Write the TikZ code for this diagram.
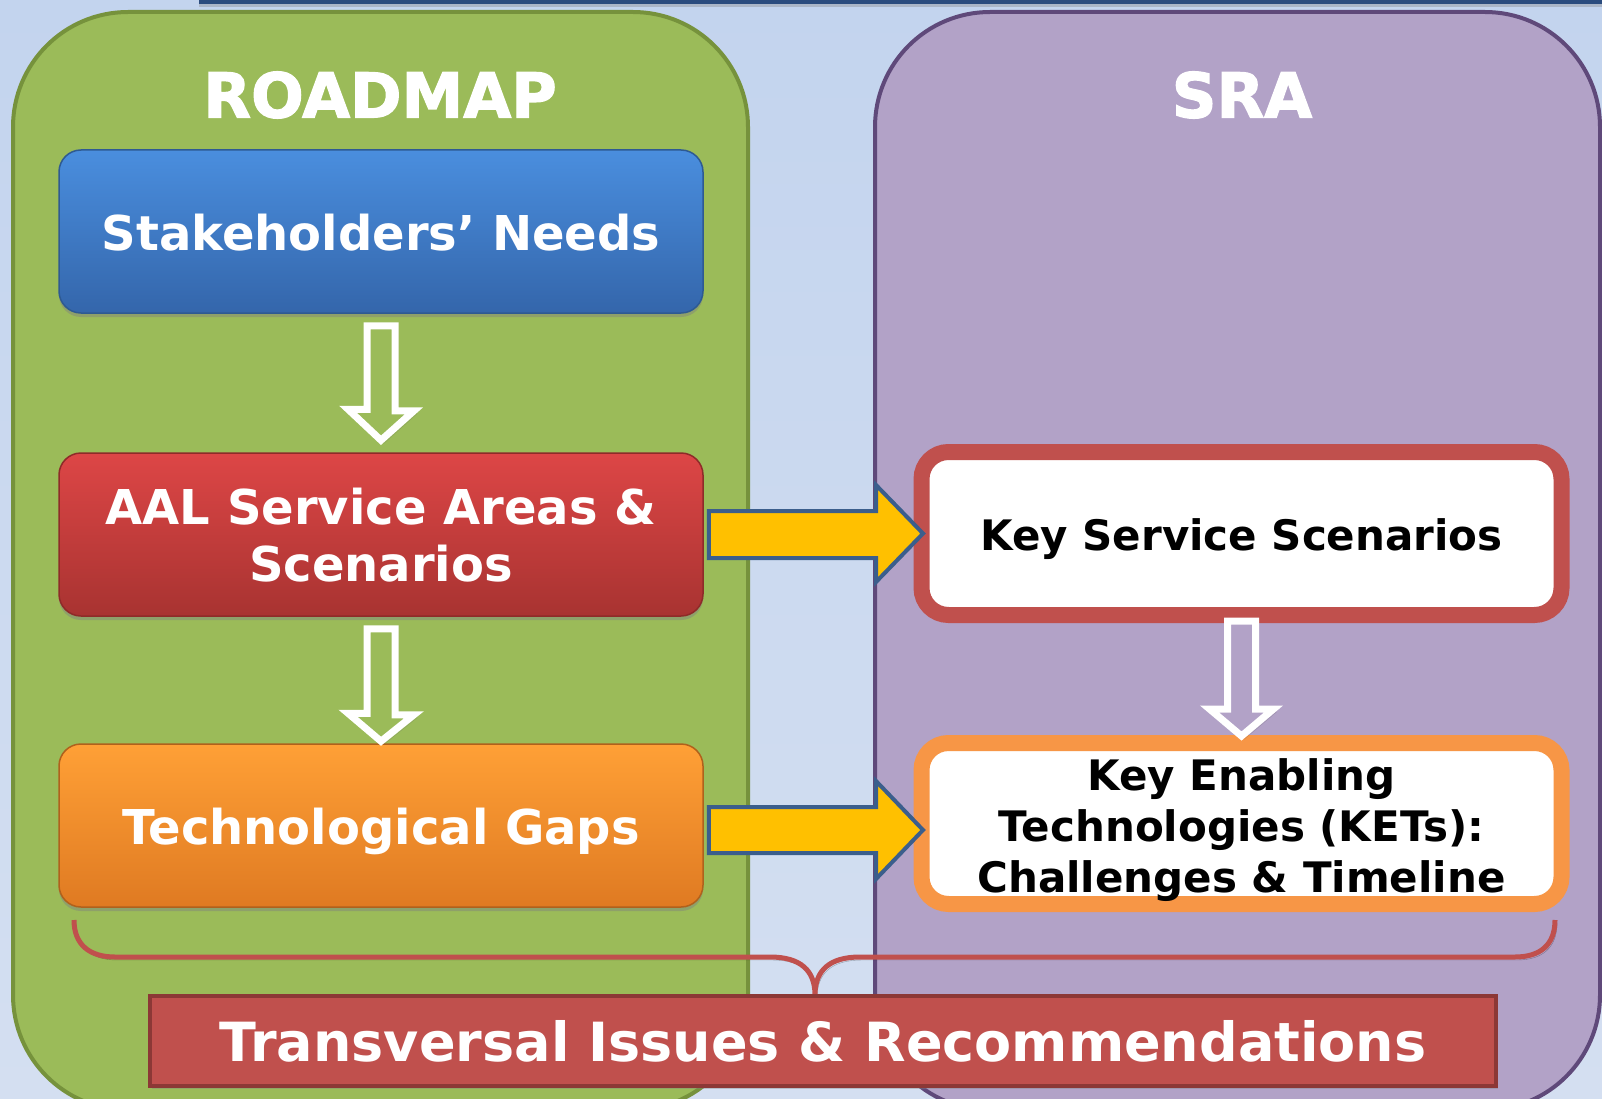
\documentclass[tikz,border=0pt]{standalone}
\usepackage{fontspec}
\setmainfont{DejaVu Sans}
\newfontfamily\heavyfont{DejaVu Sans}[BoldFeatures={FakeBold=2}]
\usetikzlibrary{shadows,calc}
\definecolor{bgtop}{HTML}{C3D4EE}
\definecolor{bgbot}{HTML}{D4DFF1}
\definecolor{topbar}{HTML}{2B4C7E}
\definecolor{gfill}{HTML}{9BBB59}
\definecolor{gline}{HTML}{76923C}
\definecolor{pfill}{HTML}{B2A2C7}
\definecolor{pline}{HTML}{5F497A}
\definecolor{bluetop}{HTML}{4A8EDE}
\definecolor{bluebot}{HTML}{3466AB}
\definecolor{blueline}{HTML}{2E5A92}
\definecolor{redtop}{HTML}{DD4646}
\definecolor{redbot}{HTML}{A83331}
\definecolor{redline}{HTML}{8E2B29}
\definecolor{ortop}{HTML}{FFA036}
\definecolor{orbot}{HTML}{DF7A22}
\definecolor{orline}{HTML}{B0611C}
\definecolor{accred}{HTML}{C0504D}
\definecolor{accredline}{HTML}{8C3836}
\definecolor{accor}{HTML}{F79646}
\definecolor{yel}{HTML}{FFC000}
\definecolor{yelline}{HTML}{3B5E8C}
\newcommand\mylines[2]{\raisebox{#1}[\height][\depth]{\begin{tabular}{@{}c@{}}#2\end{tabular}}}
\newcommand\mydrop[2]{\raisebox{#1}[\height][\depth]{#2}}
\begin{document}
\begin{tikzpicture}[x=1pt,y=-1pt,
  panel/.style={line width=4pt, rounded corners=115pt},
  leftbox/.style={rectangle, rounded corners=22pt, minimum width=644pt, minimum height=163pt,
    line width=1.5pt, text=white, font=\bfseries\fontsize{48}{57}\selectfont,
    drop shadow={shadow xshift=0pt, shadow yshift=-4pt, opacity=0.45}},
  rightbox/.style={rectangle, rounded corners=27pt, minimum width=640pt, line width=16pt,
    fill=white, text=black, font=\bfseries\fontsize{42}{51}\selectfont},
  hollow/.style={draw=white, line width=7pt, miter limit=10,
    drop shadow={shadow xshift=3pt, shadow yshift=-3pt, opacity=0.3, fill=none, draw=black!60}},
  yarrow/.style={fill=yel, draw=yelline, line width=4pt, miter limit=10},
  header/.style={text=white, font=\heavyfont\bfseries\fontsize{62}{70}\selectfont}
]
\useasboundingbox (0,0) rectangle (1602,1099);
\shade[top color=bgtop, bottom color=bgbot] (0,0) rectangle (1602,1099);
% top bar
\fill[topbar, drop shadow={shadow xshift=0pt, shadow yshift=-3pt, opacity=0.35}] (199,-10) rectangle (1602,4);
% panels
\draw[panel, fill=gfill, draw=gline] (13,12) rectangle (748,1110);
\draw[panel, fill=pfill, draw=pline] (875,12) rectangle (1600,1110);
% headers
\node[header] (roadmap) at (380,95) {ROADMAP};
\node[header] (sra) at (1242,95) {SRA};
% left boxes
\node[leftbox, top color=bluetop, bottom color=bluebot, draw=blueline] (sn) at (381,231.5) {\mydrop{-1pt}{Stakeholders’ Needs}};
\node[leftbox, top color=redtop, bottom color=redbot, draw=redline] (aal) at (381,534.5) {\mylines{-7pt}{AAL Service Areas \&\\Scenarios}};
\node[leftbox, top color=ortop, bottom color=orbot, draw=orline] (tg) at (381,825.5) {\mydrop{-6pt}{Technological Gaps}};
% right boxes
\node[rightbox, draw=accred, minimum height=163pt] (kss) at (1241.5,533.5) {\mydrop{-6pt}{Key Service Scenarios}};
\node[rightbox, draw=accor, minimum height=161pt] (ket) at (1241.5,823.5) {\mylines{-8pt}{Key Enabling\\Technologies (KETs):\\Challenges \& Timeline}};
% hollow arrows
\draw[hollow] ($(sn.south)+(-14,12)$) -- ++(28,0) -- ++(0,85) -- ++(19,0) -- ($(aal.north)+(0,-12)$) -- ++(-33,-31) -- ++(19,0) -- cycle;
\draw[hollow] ($(aal.south)+(-14,12)$) -- ++(28,0) -- ++(0,86) -- ++(19,0) -- ($(tg.north)+(0,-2)$) -- ++(-33,-28) -- ++(19,0) -- cycle;
\draw[hollow] ($(kss.south)+(-14,-2)$) -- ++(28,0) -- ++(0,88) -- ++(18,0) -- ($(ket.north)+(0,1)$) -- ++(-32,-27) -- ++(18,0) -- cycle;
% yellow block arrows
\draw[yarrow] ($(aal.east)+(5,-23.5)$) -| ($(kss.west)+(-37.5,-48.5)$) -- ($(kss.west)+(9.5,0)$)
  -- ($(kss.west)+(-37.5,48.5)$) |- ($(aal.east)+(5,23.5)$) -- cycle;
\draw[yarrow] ($(tg.east)+(5,-18.5)$) -| ($(ket.west)+(-37.5,-42.5)$) -- ($(ket.west)+(9.5,6.5)$)
  -- ($(ket.west)+(-37.5,55.5)$) |- ($(tg.east)+(5,27.5)$) -- cycle;
% brace
\draw[accred, line width=5pt, drop shadow={shadow xshift=2pt, shadow yshift=-3pt, opacity=0.3, fill=none, draw=black}]
  (74,920) .. controls (74,945) and (90,957) .. (115,957) -- (770,957)
  .. controls (800,957) and (815,970) .. (815,995)
  .. controls (815,970) and (830,957) .. (860,957) -- (1515,957)
  .. controls (1540,957) and (1555,945) .. (1555,920);
% transversal box
\node[rectangle, fill=accred, draw=accredline, line width=4pt, minimum width=1346pt, minimum height=90pt,
  text=white, font=\bfseries\fontsize{54}{60}\selectfont,
  drop shadow={shadow xshift=2pt, shadow yshift=-3pt, opacity=0.35}] (trans) at (823,1041) {Transversal Issues \& Recommendations};
\end{tikzpicture}
\end{document}
